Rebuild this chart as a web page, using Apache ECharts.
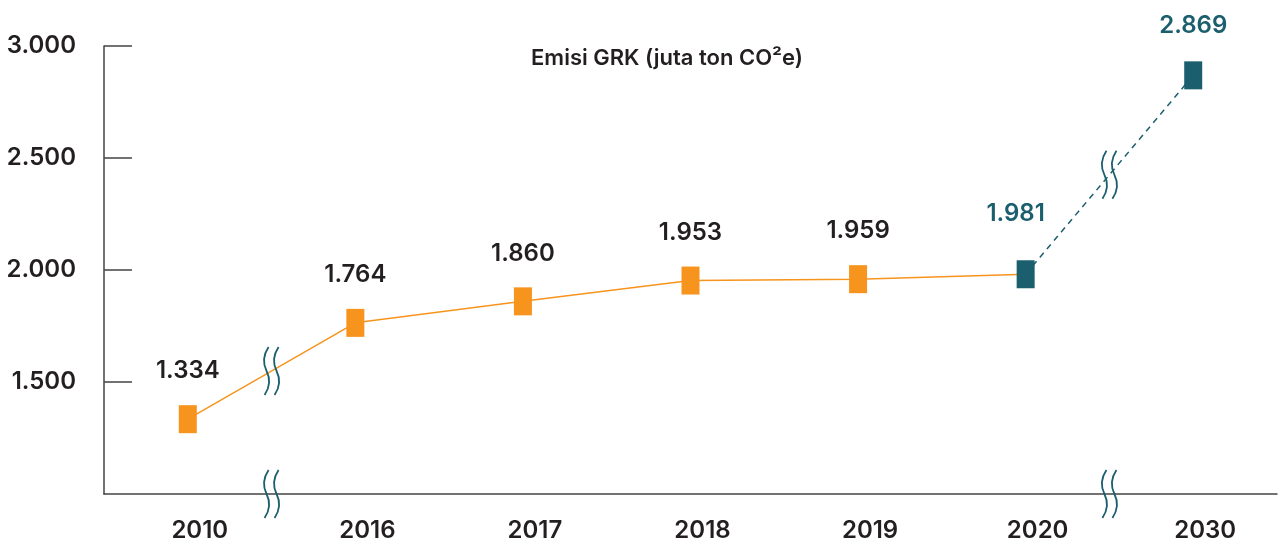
<!DOCTYPE html>
<html>
<head>
<meta charset="utf-8">
<script src="https://cdn.jsdelivr.net/npm/echarts@6/dist/echarts.min.js"></script>
<style>
  html, body { margin: 0; padding: 0; background: #fff; }
  #chart { width: 1283px; height: 546px; }
</style>
</head>
<body>
<div id="chart"></div>
<script>
var years = ['2010', '2016', '2017', '2018', '2019', '2020', '2030'];
var emisi = [1334, 1764, 1860, 1953, 1959, 1981, 2869];
var lastHist = 5;            // 2020 is the last actual value, 2030 a projection
var breakAfter = [0, 5];     // axis breaks sit between these categories and the next
var yTicks = [1000, 1500, 2000, 2500, 3000];

var ORANGE = '#F7941D';
var TEAL = '#1B5F6E';
var INK = '#231F20';
var FONT = 'Inter';

function fmt(v) {
    return String(v).replace(/\B(?=(\d{3})+(?!\d))/g, '.');
}

var chartDom = document.getElementById('chart');
var myChart = echarts.init(chartDom);

var histData = emisi.map(function (v, i) {
    if (i > lastHist) return '-';
    if (i === lastHist) return { value: v, symbol: 'none', label: { show: false } };
    return v;
});
var projData = emisi.map(function (v, i) {
    if (i < lastHist) return '-';
    if (i === lastHist) return { value: v, label: { offset: [-10, -12] } };
    return { value: v, label: { offset: [0, -2] } };
});

// break marks: on the x axis and on the line between the same two categories
var breakData = [];
breakAfter.forEach(function (i) {
    breakData.push([i, yTicks[0], yTicks[0]]);
    breakData.push([i, emisi[i], emisi[i + 1]]);
});

function renderBreak(params, api) {
    var i = api.value(0);
    var a = api.coord([i, api.value(1)]);
    var b = api.coord([i + 1, api.value(2)]);
    var cx = (a[0] + b[0]) / 2;
    var cy = (a[1] + b[1]) / 2;
    var children = [-5, 5].map(function (dx) {
        var x = cx + dx;
        return {
            type: 'path',
            shape: {
                pathData: 'M' + (x + 2) + ' ' + (cy - 24) +
                    ' Q' + (x - 6) + ' ' + (cy - 12) + ' ' + x + ' ' + cy +
                    ' Q' + (x + 6) + ' ' + (cy + 12) + ' ' + (x - 2) + ' ' + (cy + 24)
            },
            style: { fill: 'none', stroke: TEAL, lineWidth: 1.8 }
        };
    });
    return { type: 'group', children: children };
}

var option = {
    animation: false,
    title: {
        text: 'Emisi GRK (juta ton CO²e)',
        left: 526,
        top: 42,
        textStyle: { fontFamily: FONT, fontSize: 22, fontWeight: 600, color: INK }
    },
    grid: { left: 104, right: 6, top: 46, bottom: 52, containLabel: false },
    xAxis: {
        type: 'category',
        data: years,
        boundaryGap: true,
        axisLine: { lineStyle: { color: '#444', width: 1.5 } },
        axisTick: {
            inside: true,
            length: 10,
            lineStyle: { color: '#444', width: 1.5 },
            interval: function (index) {
                return breakAfter.indexOf(index - 1) < 0;
            }
        },
        axisLabel: {
            margin: 25,
            padding: [0, 0, 0, 24],
            color: INK,
            fontFamily: FONT,
            fontSize: 24,
            fontWeight: 600
        },
        splitLine: { show: false }
    },
    yAxis: {
        type: 'value',
        min: yTicks[0],
        max: yTicks[yTicks.length - 1],
        interval: 500,
        axisLine: { show: true, lineStyle: { color: '#444', width: 1.5 } },
        axisTick: { show: true, inside: true, length: 28, lineStyle: { color: '#444', width: 1.5 } },
        axisLabel: {
            showMinLabel: false,
            margin: 28,
            color: INK,
            fontFamily: FONT,
            fontSize: 24,
            fontWeight: 600,
            formatter: fmt
        },
        splitLine: { show: false }
    },
    series: [
        {
            type: 'line',
            data: histData,
            symbol: 'rect',
            symbolSize: [18, 28],
            itemStyle: { color: ORANGE },
            lineStyle: { color: ORANGE, width: 1.5 },
            label: {
                show: true,
                position: 'top',
                distance: 22,
                color: INK,
                fontFamily: FONT,
                fontSize: 24,
                fontWeight: 600,
                formatter: function (p) { return fmt(p.value); }
            },
            z: 2
        },
        {
            type: 'line',
            data: projData,
            symbol: 'rect',
            symbolSize: [18, 28],
            itemStyle: { color: TEAL },
            lineStyle: { color: TEAL, width: 1.5, type: [6, 5] },
            label: {
                show: true,
                position: 'top',
                distance: 22,
                color: TEAL,
                fontFamily: FONT,
                fontSize: 24,
                fontWeight: 600,
                formatter: function (p) { return fmt(p.value); }
            },
            z: 3
        },
        {
            type: 'custom',
            data: breakData,
            renderItem: renderBreak,
            silent: true,
            clip: false,
            z: 4
        }
    ]
};

option && myChart.setOption(option);
</script>
</body>
</html>
